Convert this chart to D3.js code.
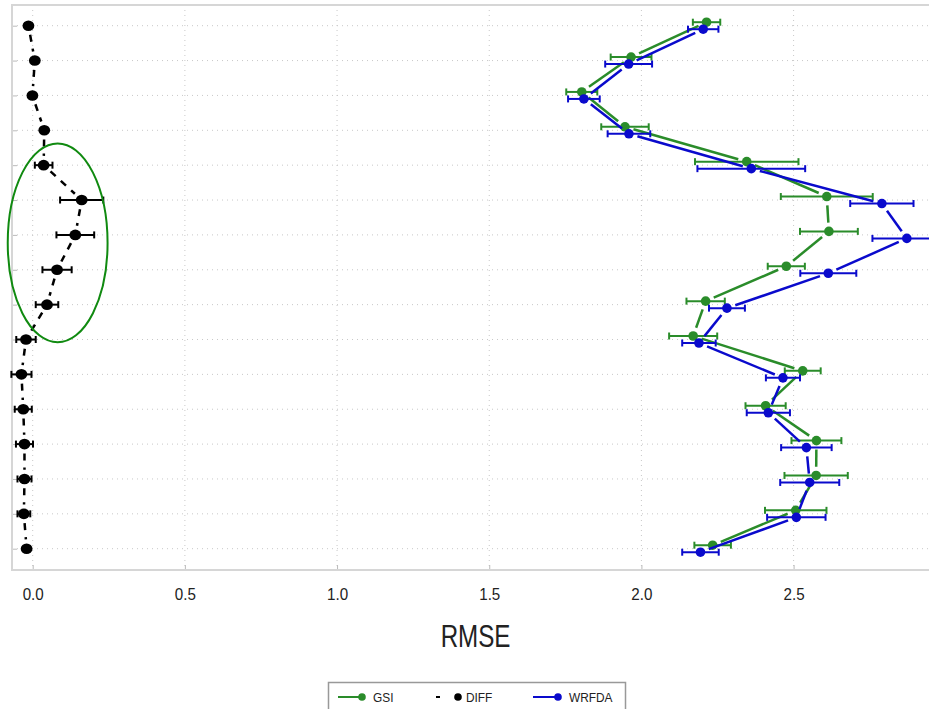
<!DOCTYPE html>
<html>
<head>
<meta charset="utf-8">
<script src="https://cdn.jsdelivr.net/npm/d3@7"></script>
<style>
  body { margin: 0; background: #fff; }
  svg { display: block; }
  text { font-family: "Liberation Sans", Arial, sans-serif; fill: #222; }
</style>
</head>
<body>
<div id="chart"></div>
<script>
// vertical levels, top to bottom (no labels shown on the axis)
var levels = [1, 2, 3, 4, 5, 6, 7, 8, 9, 10, 11, 12, 13, 14, 15, 16];

var gsiRmse   = [2.214, 1.966, 1.804, 1.946, 2.346, 2.609, 2.616, 2.476, 2.211, 2.170, 2.530, 2.408, 2.575, 2.574, 2.507, 2.234];
var gsiErr    = [0.045, 0.067, 0.051, 0.078, 0.170, 0.151, 0.095, 0.061, 0.063, 0.079, 0.059, 0.066, 0.082, 0.104, 0.101, 0.060];

var wrfdaRmse = [2.203, 1.958, 1.811, 1.959, 2.361, 2.790, 2.872, 2.614, 2.281, 2.189, 2.465, 2.417, 2.542, 2.553, 2.509, 2.194];
var wrfdaErr  = [0.050, 0.077, 0.052, 0.070, 0.177, 0.104, 0.113, 0.092, 0.059, 0.055, 0.056, 0.071, 0.083, 0.097, 0.096, 0.060];

var diffRmse  = [-0.014, 0.007, -0.001, 0.038, 0.036, 0.161, 0.140, 0.080, 0.047, -0.022, -0.037, -0.031, -0.027, -0.027, -0.029, -0.020];
var diffErr   = [0.008, 0.008, 0.008, 0.008, 0.029, 0.071, 0.062, 0.048, 0.037, 0.032, 0.033, 0.028, 0.028, 0.023, 0.021, 0.008];

var xTicks = [0, 0.5, 1.0, 1.5, 2.0, 2.5];
var xTickLabels = ["0.0", "0.5", "1.0", "1.5", "2.0", "2.5"];

var legendNames = ["GSI", "DIFF", "WRFDA"];

var W = 929, H = 709;
var frame = {left: 12, top: 5, right: 940, bottom: 570};

var svg = d3.select("#chart").append("svg")
    .attr("width", W)
    .attr("height", H);

var x = d3.scaleLinear()
    .domain([-0.068, 2.981])
    .range([frame.left, frame.right]);

var y = d3.scaleLinear()
    .domain([1, 16])
    .range([25.7, 548.7]);

// grid lines (dotted)
svg.append("g").selectAll("line").data(xTicks).join("line")
    .attr("x1", function(d) { return x(d); })
    .attr("x2", function(d) { return x(d); })
    .attr("y1", frame.top)
    .attr("y2", frame.bottom)
    .attr("stroke", "#c8c8c8")
    .attr("stroke-width", 1)
    .attr("stroke-dasharray", "1,4");

svg.append("g").selectAll("line").data(levels).join("line")
    .attr("x1", frame.left)
    .attr("x2", frame.right)
    .attr("y1", function(d) { return y(d); })
    .attr("y2", function(d) { return y(d); })
    .attr("stroke", "#c8c8c8")
    .attr("stroke-width", 1)
    .attr("stroke-dasharray", "1,4");

// bottom axis, ticks pointing inward
var xAxis = svg.append("g")
    .attr("transform", "translate(0," + frame.bottom + ")")
    .call(d3.axisBottom(x).tickValues(xTicks).tickSizeInner(-5).tickSizeOuter(0)
        .tickFormat(function(d, i) { return xTickLabels[i]; }));
xAxis.select(".domain").remove();
xAxis.selectAll(".tick line").attr("stroke", "#bbb");
xAxis.selectAll(".tick text")
    .attr("y", 0)
    .attr("dy", null)
    .attr("transform", "translate(0,30) scale(0.92,1)")
    .style("font-size", "16.5px")
    .style("font-family", null)
    .attr("fill", "#222");

var yAxis = svg.append("g")
    .attr("transform", "translate(" + frame.left + ",0)")
    .call(d3.axisLeft(y).tickValues(levels).tickSizeInner(-5).tickSizeOuter(0).tickFormat(""));
yAxis.select(".domain").remove();
yAxis.selectAll(".tick line").attr("stroke", "#bbb");

// frame
svg.append("path")
    .attr("d", "M" + frame.right + "," + frame.top + "H" + frame.left + "V" + frame.bottom + "H" + frame.right)
    .attr("fill", "none")
    .attr("stroke", "#d6d6d6")
    .attr("stroke-width", 2);

// axis title (narrow face)
svg.append("text")
    .attr("transform", "translate(" + x(1.455) + ",647) scale(0.78,1)")
    .attr("text-anchor", "middle")
    .style("font-size", "31px")
    .text("RMSE");

// one series: line with gaps at the points (type "b"), error bars, dots
function drawSeries(vals, errs, color, dy, dash, r) {
    var g = svg.append("g");
    var pts = vals.map(function(v, i) { return [x(v), y(levels[i]) + dy]; });
    var gap = r + 4;
    var segs = [];
    for (var i = 0; i < pts.length - 1; i++) {
        var a = pts[i], b = pts[i + 1];
        var dx = b[0] - a[0], dyy = b[1] - a[1];
        var len = Math.sqrt(dx * dx + dyy * dyy);
        if (len <= 2 * gap) continue;
        var ux = dx / len, uy = dyy / len;
        segs.push([a[0] + ux * gap, a[1] + uy * gap, b[0] - ux * gap, b[1] - uy * gap]);
    }
    g.selectAll(".seg").data(segs).join("line")
        .attr("x1", function(d) { return d[0]; })
        .attr("y1", function(d) { return d[1]; })
        .attr("x2", function(d) { return d[2]; })
        .attr("y2", function(d) { return d[3]; })
        .attr("stroke", color)
        .attr("stroke-width", 2.5)
        .attr("stroke-dasharray", dash);

    var bars = g.selectAll(".err").data(vals).join("g");
    bars.append("line")
        .attr("x1", function(d, i) { return x(d - errs[i]); })
        .attr("x2", function(d, i) { return x(d + errs[i]); })
        .attr("y1", function(d, i) { return y(levels[i]) + dy; })
        .attr("y2", function(d, i) { return y(levels[i]) + dy; })
        .attr("stroke", color)
        .attr("stroke-width", 2);
    [-1, 1].forEach(function(s) {
        bars.append("line")
            .attr("x1", function(d, i) { return x(d + s * errs[i]); })
            .attr("x2", function(d, i) { return x(d + s * errs[i]); })
            .attr("y1", function(d, i) { return y(levels[i]) + dy - 3.5; })
            .attr("y2", function(d, i) { return y(levels[i]) + dy + 3.5; })
            .attr("stroke", color)
            .attr("stroke-width", 2);
    });

    g.selectAll("ellipse").data(vals).join("ellipse")
        .attr("cx", function(d) { return x(d); })
        .attr("cy", function(d, i) { return y(levels[i]) + dy; })
        .attr("rx", r + (color === "#000" ? 0.6 : 0))
        .attr("ry", r)
        .attr("fill", color);
}

drawSeries(diffRmse, diffErr, "#000", 0, "7,7", 5.3);
drawSeries(gsiRmse, gsiErr, "#2a8c2a", -3.5, null, 4.8);
drawSeries(wrfdaRmse, wrfdaErr, "#0a0acc", 3.5, null, 4.8);

// highlight ellipse round the DIFF peak
svg.append("ellipse")
    .attr("cx", x(0.082))
    .attr("cy", y(7.23))
    .attr("rx", x(0.246) - x(0.082))
    .attr("ry", y(7.23) - y(4.38))
    .attr("fill", "none")
    .attr("stroke", "#108a10")
    .attr("stroke-width", 2);

// legend
var legend = svg.append("g");
legend.append("rect")
    .attr("x", 328.5).attr("y", 682.5)
    .attr("width", 297).attr("height", 40)
    .attr("fill", "#fff")
    .attr("stroke", "#999")
    .attr("stroke-width", 1.5);

var legendItems = [
    {name: legendNames[0], color: "#2a8c2a", x0: 338, x1: 362, dash: null, tx: 373},
    {name: legendNames[1], color: "#000", x0: 436, x1: 458, dash: "4,30", tx: 466},
    {name: legendNames[2], color: "#0a0acc", x0: 533, x1: 558, dash: null, tx: 569}
];
var li = legend.selectAll(".item").data(legendItems).join("g");
li.append("line")
    .attr("x1", function(d) { return d.x0; })
    .attr("x2", function(d) { return d.x1; })
    .attr("y1", 697).attr("y2", 697)
    .attr("stroke", function(d) { return d.color; })
    .attr("stroke-width", 2)
    .attr("stroke-dasharray", function(d) { return d.dash; });
li.append("circle")
    .attr("cx", function(d) { return d.x1; })
    .attr("cy", 697)
    .attr("r", 3.8)
    .attr("fill", function(d) { return d.color; });
li.append("text")
    .attr("transform", function(d) { return "translate(" + d.tx + ",701.5) scale(0.88,1)"; })
    .style("font-size", "13.5px")
    .text(function(d) { return d.name; });
</script>
</body>
</html>
